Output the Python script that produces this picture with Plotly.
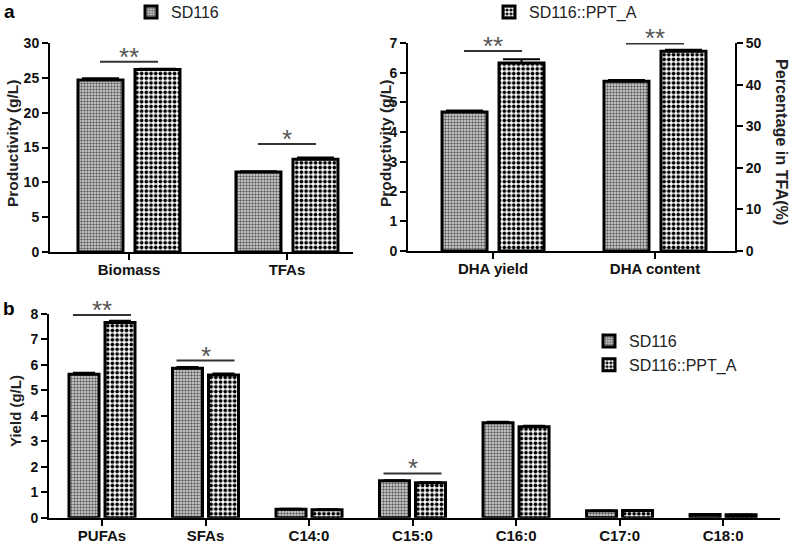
import plotly.graph_objects as go

# ---------------- data ----------------
cats_a1 = ["Biomass", "TFAs"]
sd116_a1 = [24.7, 11.5]
ppt_a1 = [26.2, 13.3]
err_sd116_a1 = [0.25, 0.08]
err_ppt_a1 = [0.12, 0.25]
sig_a1 = ["**", "*"]
sig_level_a1 = [27.3, 15.5]

cats_a2 = ["DHA yield", "DHA content"]
sd116_dha_yield = [4.68]
ppt_dha_yield = [6.33]
err_sd116_dha_yield = [0.05]
err_ppt_dha_yield = [0.12]
sd116_dha_content = [40.8]
ppt_dha_content = [48.0]
err_sd116_dha_content = [0.3]
err_ppt_dha_content = [0.4]
sig_a2 = ["**", "**"]
sig_level_a2 = [6.73, 49.9]   # first on left axis (g/L), second on right axis (%)

cats_b = ["PUFAs", "SFAs", "C14:0", "C15:0", "C16:0", "C17:0", "C18:0"]
sd116_b = [5.63, 5.87, 0.33, 1.45, 3.73, 0.27, 0.13]
ppt_b = [7.67, 5.60, 0.31, 1.37, 3.57, 0.28, 0.12]
err_sd116_b = [0.06, 0.05, 0.02, 0.02, 0.04, 0.01, 0.01]
err_ppt_b = [0.06, 0.06, 0.02, 0.02, 0.04, 0.01, 0.01]
sig_b = ["**", "*", "", "*", "", "", ""]
sig_level_b = [7.96, 6.17, None, 1.74, None, None, None]

name1 = "SD116"
name2 = "SD116::PPT_A"

# ---------------- style / layout ----------------
W, H = 794, 543
FONT = "Liberation Sans"

def px_x(a, b):
    return [a / W, b / W]

def px_y(top, bottom):
    return [1 - bottom / H, 1 - top / H]

dom_x_a1, rng_x_a1 = px_x(50, 353), [-0.5, 1.418]
dom_y_a1 = px_y(43, 252)
dom_x_a2, rng_x_a2 = px_x(408, 735), [-0.525, 1.494]
dom_y_a2 = px_y(43, 251)
dom_x_b, rng_x_b = px_x(49, 780), [-0.512, 6.55]
dom_y_b = px_y(314, 517.7)

def unit_px(dom, rng):
    return (dom[1] - dom[0]) * W / (rng[1] - rng[0])

u_a1 = unit_px(dom_x_a1, rng_x_a1)
u_a2 = unit_px(dom_x_a2, rng_x_a2)
u_b = unit_px(dom_x_b, rng_x_b)

pat1 = dict(shape=".", size=3, solidity=0.5, fgcolor="#5e5e5e", bgcolor="#dedede", fillmode="replace")
pat2 = dict(shape=".", size=4.7, solidity=0.5, fgcolor="#000000", bgcolor="#ffffff", fillmode="replace")

def bar(x, y, err, name, pat, xa, ya, unit, bw_px, gap_px, first, legend, showlegend):
    w = bw_px / unit
    off = -(bw_px + gap_px / 2) / unit if first else (gap_px / 2) / unit
    return go.Bar(
        x=x, y=y, name=name, xaxis=xa, yaxis=ya,
        width=w, offset=off,
        marker=dict(color=pat["bgcolor"], pattern=pat, line=dict(color="black", width=3)),
        error_y=dict(type="data", array=err, arrayminus=[0] * len(err), symmetric=False,
                     color="black", thickness=2, width=bw_px / 2 - 4),
        legend=legend, showlegend=showlegend,
    )

fig = go.Figure()
# panel a left
fig.add_trace(bar(cats_a1, sd116_a1, err_sd116_a1, name1, pat1, "x", "y", u_a1, 45, 12, True, "legend", True))
fig.add_trace(bar(cats_a1, ppt_a1, err_ppt_a1, name2, pat2, "x", "y", u_a1, 45, 12, False, "legend", False))
# panel a right
fig.add_trace(bar(cats_a2[:1], sd116_dha_yield, err_sd116_dha_yield, name1, pat1, "x2", "y2", u_a2, 45, 12, True, "legend2", False))
fig.add_trace(bar(cats_a2[:1], ppt_dha_yield, err_ppt_dha_yield, name2, pat2, "x2", "y2", u_a2, 45, 12, False, "legend2", True))
fig.add_trace(bar(cats_a2[1:], sd116_dha_content, err_sd116_dha_content, name1, pat1, "x2", "y3", u_a2, 45, 12, True, "legend2", False))
fig.add_trace(bar(cats_a2[1:], ppt_dha_content, err_ppt_dha_content, name2, pat2, "x2", "y3", u_a2, 45, 12, False, "legend2", False))
# panel b
fig.add_trace(bar(cats_b, sd116_b, err_sd116_b, name1, pat1, "x3", "y4", u_b, 30, 6, True, "legend3", True))
fig.add_trace(bar(cats_b, ppt_b, err_ppt_b, name2, pat2, "x3", "y4", u_b, 30, 6, False, "legend3", True))

tickfont = dict(family=FONT, size=14, color="#111", weight="bold")
catfont = dict(family=FONT, size=15, color="#111", weight="bold")
common_y = dict(showline=True, linecolor="black", linewidth=2, ticks="outside", ticklen=6,
                tickwidth=2, tickcolor="black", showgrid=False, zeroline=False, tickfont=tickfont,
                automargin=False)
common_x = dict(showline=True, linecolor="black", linewidth=2, ticks="outside", ticklen=6,
                tickwidth=2, tickcolor="black", showgrid=False, zeroline=False, tickfont=catfont,
                type="category", automargin=False)

legfont = dict(family=FONT, size=16, color="#222")
fig.update_layout(
    width=W, height=H, margin=dict(l=0, r=0, t=0, b=0, autoexpand=False),
    paper_bgcolor="white", plot_bgcolor="white",
    barmode="overlay",
    xaxis=dict(common_x, domain=dom_x_a1, range=rng_x_a1, anchor="y", categoryarray=cats_a1,
               categoryorder="array", ticklabelstandoff=-3),
    yaxis=dict(common_y, domain=dom_y_a1, range=[0, 30], dtick=5, anchor="x"),
    xaxis2=dict(common_x, domain=dom_x_a2, range=rng_x_a2, anchor="y2", categoryarray=cats_a2,
                categoryorder="array", ticklabelstandoff=-3),
    yaxis2=dict(common_y, domain=dom_y_a2, range=[0, 7], dtick=1, anchor="x2"),
    yaxis3=dict(common_y, range=[0, 50], dtick=10, anchor="x2", overlaying="y2", side="right"),
    xaxis3=dict(common_x, domain=dom_x_b, range=rng_x_b, anchor="y4", categoryarray=cats_b,
                categoryorder="array", ticklabelstandoff=-3),
    yaxis4=dict(common_y, domain=dom_y_b, range=[0, 8], dtick=1, anchor="x3"),
    legend=dict(x=131 / W, y=1 + 5 / H, xanchor="left", yanchor="top", bgcolor="rgba(0,0,0,0)",
                font=legfont),
    legend2=dict(x=489 / W, y=1 + 5 / H, xanchor="left", yanchor="top", bgcolor="rgba(0,0,0,0)",
                 font=legfont),
    legend3=dict(x=589 / W, y=1 - 324 / H, xanchor="left", yanchor="top", bgcolor="rgba(0,0,0,0)",
                 font=legfont, traceorder="normal"),
)

# significance bars
def add_sig(xref, yref, idx, level, text, unit):
    half = 29 / unit
    fig.add_shape(type="line", xref=xref, yref=yref, x0=idx - half, x1=idx + half, y0=level, y1=level,
                  line=dict(color="#333", width=2))
    fig.add_annotation(xref=xref, yref=yref, x=idx, y=level, text=text, showarrow=False,
                       yanchor="bottom", yshift=-12, font=dict(family=FONT, size=26, color="#555"))

for i, (s, lv) in enumerate(zip(sig_a1, sig_level_a1)):
    add_sig("x", "y", i, lv, s, u_a1)
add_sig("x2", "y2", 0, sig_level_a2[0], sig_a2[0], u_a2)
add_sig("x2", "y3", 1, sig_level_a2[1], sig_a2[1], u_a2)
for i, (s, lv) in enumerate(zip(sig_b, sig_level_b)):
    if s:
        add_sig("x3", "y4", i, lv, s, u_b)

# axis titles and panel labels
def tf(size):
    return dict(family=FONT, size=size, color="#222", weight="bold")

def ann(x, y, text, angle=0, font=None, xanchor="center"):
    fig.add_annotation(xref="paper", yref="paper", x=x / W, y=1 - y / H, text=text, showarrow=False,
                       textangle=angle, xanchor=xanchor, yanchor="middle", font=font)

ann(12, 144, "Productivity (g/L)", -90, tf(15.5))
ann(385, 144, "Productivity (g/L)", -90, tf(15.5))
ann(793, 142, "Percentage in TFA(%)", 90, tf(16.2), xanchor="right")
ann(15, 411, "Yield (g/L)", -90, tf(15))
ann(9, 12, "a", 0, dict(family=FONT, size=19, color="black", weight="bold"))
ann(9, 308, "b", 0, dict(family=FONT, size=19, color="black", weight="bold"))

fig.write_html(
    "out.html",
    config={"displayModeBar": False},
    post_script="document.body.style.margin='0px';document.body.style.overflow='hidden';",
)
